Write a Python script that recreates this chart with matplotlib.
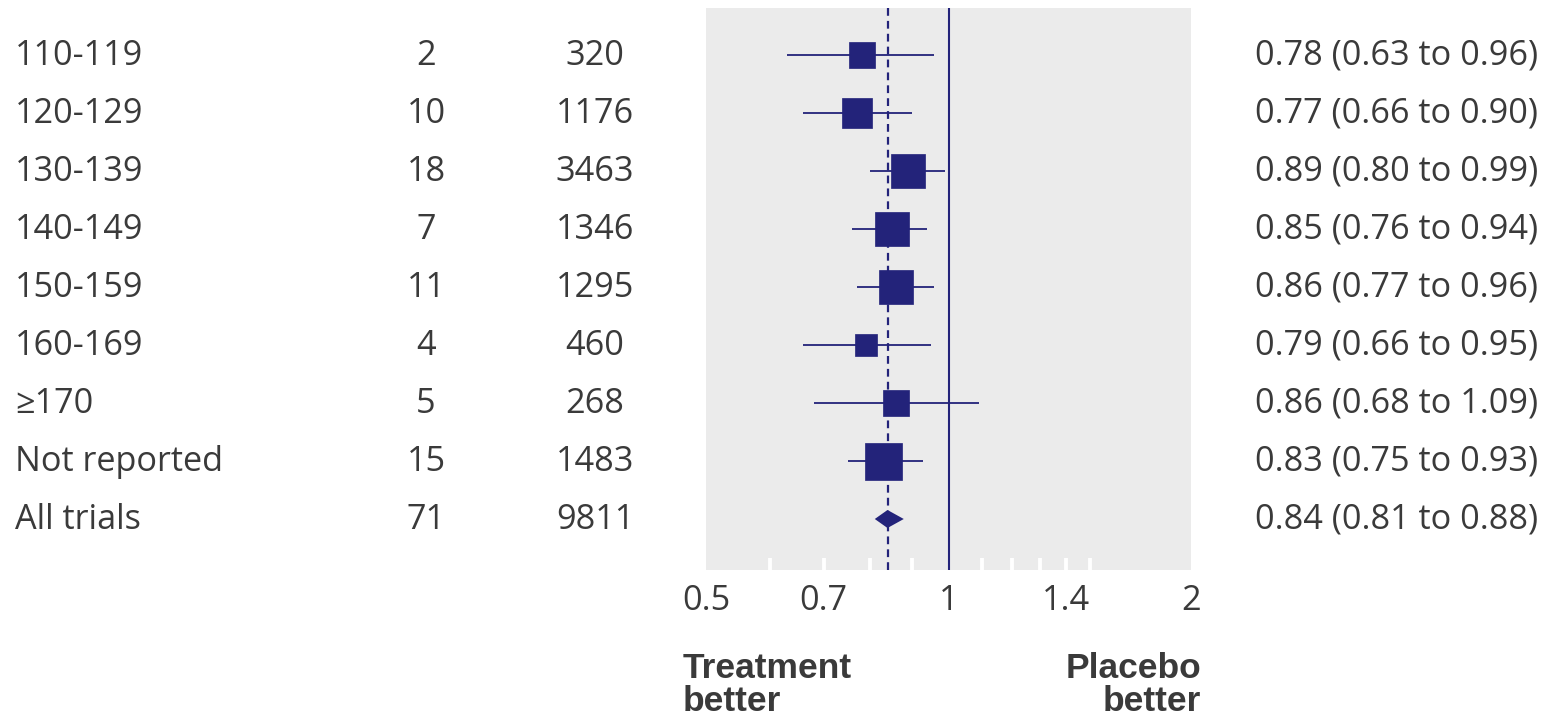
import matplotlib
matplotlib.use("Agg")
import matplotlib.pyplot as plt
from matplotlib.transforms import blended_transform_factory
from matplotlib.ticker import FixedLocator, NullFormatter

# ---------------- data ----------------
groups = ["110-119", "120-129", "130-139", "140-149", "150-159",
          "160-169", "\u2265170", "Not reported"]
n_trials = [2, 10, 18, 7, 11, 4, 5, 15]
n_patients = [320, 1176, 3463, 1346, 1295, 460, 268, 1483]
rr = [0.78, 0.77, 0.89, 0.85, 0.86, 0.79, 0.86, 0.83]
lo = [0.63, 0.66, 0.80, 0.76, 0.77, 0.66, 0.68, 0.75]
hi = [0.96, 0.90, 0.99, 0.94, 0.96, 0.95, 1.09, 0.93]
# relative weight shown by box size (px side)
box_px = [27, 30, 34, 34, 34, 23, 27, 37]

overall_label = "All trials"
overall_trials = 71
overall_patients = 9811
overall_rr, overall_lo, overall_hi = 0.84, 0.81, 0.88

xticks = [0.5, 0.7, 1, 1.4, 2]
xtick_labels = ["0.5", "0.7", "1", "1.4", "2"]
minor_ticks = [0.6, 0.7, 0.8, 0.9, 1.1, 1.2, 1.3, 1.4, 1.5]

# ---------------- style ----------------
W, H = 1561, 718
NAVY = "#23237a"
TXT = "#3a3a3a"
GRAY = "#ebebeb"
FS = 24.7
plt.rcParams['font.family'] = ['Open Sans', 'DejaVu Sans']

fig = plt.figure(figsize=(W / 100, H / 100), dpi=100)
ax_l, ax_r, ax_t, ax_b = 706, 1191, 8, 570
ax = fig.add_axes([ax_l / W, 1 - ax_b / H, (ax_r - ax_l) / W, (ax_b - ax_t) / H])
ax.set_facecolor(GRAY)
for s in ax.spines.values():
    s.set_visible(False)

ax.set_xscale("log")
ax.set_xlim(0.5, 2)
row_px = 58.0
first_px = 55.0
n_rows = len(groups) + 1
ax.set_ylim((ax_b - first_px) / row_px, -(first_px - ax_t) / row_px)

ax.xaxis.remove_overlapping_locs = False
ax.set_xticks(xticks)
ax.set_xticklabels(xtick_labels)
ax.xaxis.set_minor_locator(FixedLocator(minor_ticks))
ax.xaxis.set_minor_formatter(NullFormatter())
ax.tick_params(axis="x", which="major", length=0, pad=10, labelsize=FS, labelcolor=TXT)
ax.tick_params(axis="x", which="minor", direction="in", length=9, width=2.8, color="white")
ax.set_yticks([])

# reference lines
ax.axvline(1, color=NAVY, lw=1.5, zorder=2)
ax.axvline(overall_rr, color=NAVY, lw=1.6, dashes=(3.5, 2.3), zorder=2)

ys = list(range(len(groups)))
for y, r, l, h, bp in zip(ys, rr, lo, hi, box_px):
    ax.plot([l, h], [y, y], color=NAVY, lw=1.3, zorder=3, solid_capstyle="butt")
    ax.plot([r], [y], marker="s", markersize=bp * 0.72, color=NAVY, mec=NAVY, mew=0.5, zorder=4)

yo = len(groups)
dh = 9 / row_px
ax.fill([overall_lo, overall_rr, overall_hi, overall_rr],
        [yo, yo - dh, yo, yo + dh], color=NAVY, zorder=4, lw=0)

# text columns
tr = blended_transform_factory(fig.transFigure, ax.transData)
off = 10 / row_px
labels_all = groups + [overall_label]
trials_all = n_trials + [overall_trials]
pts_all = n_patients + [overall_patients]
ci_all = [f"{r:.2f} ({l:.2f} to {h:.2f})" for r, l, h in zip(rr, lo, hi)] + \
         [f"{overall_rr:.2f} ({overall_lo:.2f} to {overall_hi:.2f})"]
for i in range(n_rows):
    yb = i + off
    ax.text(15 / W, yb, labels_all[i], transform=tr, ha="left", va="baseline",
            fontsize=FS, color=TXT, clip_on=False)
    ax.text(426 / W, yb, str(trials_all[i]), transform=tr, ha="center", va="baseline",
            fontsize=FS, color=TXT, clip_on=False)
    ax.text(595 / W, yb, str(pts_all[i]), transform=tr, ha="center", va="baseline",
            fontsize=FS, color=TXT, clip_on=False)
    ax.text(1255 / W, yb, ci_all[i], transform=tr, ha="left", va="baseline",
            fontsize=FS, color=TXT, clip_on=False)

bold = dict(fontsize=25.5, fontweight="bold", color="#3a3a3a",
            family=["Liberation Sans", "DejaVu Sans"], va="baseline")
fig.text(683 / W, 1 - 678 / H, "Treatment", ha="left", **bold)
fig.text(683 / W, 1 - 711 / H, "better", ha="left", **bold)
fig.text(1201 / W, 1 - 678 / H, "Placebo", ha="right", **bold)
fig.text(1201 / W, 1 - 711 / H, "better", ha="right", **bold)

fig.savefig("out.png", dpi=100)
